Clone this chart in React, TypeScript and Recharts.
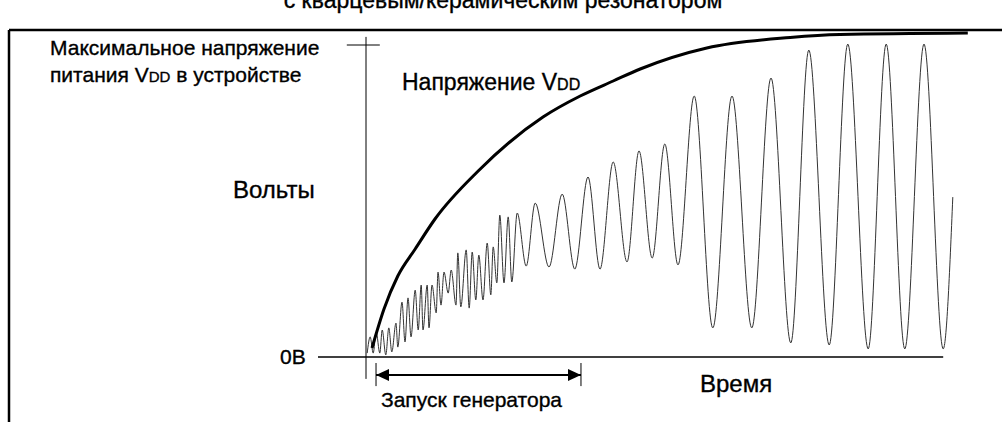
import { Line, LineChart, ReferenceDot, ReferenceLine, XAxis, YAxis } from 'recharts';

// time: 1 unit = 6px, volts: 1 unit = 3px (0 = 0B line)
const vddTime = [1, 3, 5.3, 8.2, 11.5, 18.7, 29.5, 35.7, 41.2, 45.7, 56.8, 70.7, 79, 100.3];
const vddVolts = [3, 16, 27, 36, 46, 62, 80, 87, 92, 96, 103, 106.5, 107.5, 108];

// peaks and troughs of the oscillator signal
const oscTime = [
  0.2, 0.7, 1.2, 1.7, 2.3, 2.7, 3.3, 3.8, 4.3, 5.0, 5.3, 6.0, 6.5, 7.0, 7.5, 8.2, 8.7, 9.2, 9.5,
  10.2, 10.5, 11.0, 11.7, 12.0, 12.5, 13.0, 13.7, 14.2, 15.0, 15.3, 15.8, 16.7, 17.2, 17.7, 18.3,
  18.8, 19.5, 20.2, 20.8, 21.2, 21.8, 22.3, 23.0, 23.7, 24.3, 25.2, 26.7, 28.2, 30.5, 32.7, 34.8,
  37.0, 39.0, 41.2, 43.5, 45.5, 47.7, 49.8, 52.0, 54.7, 57.8, 61.0, 64.3, 67.5, 70.8, 73.8, 77.2,
  80.3, 83.7, 86.7, 89.8, 93.0, 96.2, 97.8,
];
const oscVolts = [
  1.3, 6.7, 1.3, 8.3, 1.3, 9, 0.7, 9.7, 1.7, 11.3, 3.3, 18.3, 5, 19.7, 6.7, 22.3, 9, 24, 9,
  24, 9.7, 24, 14.7, 28.3, 17.3, 28.3, 21.3, 29, 17.3, 34.7, 16.7, 35.7, 16.3, 35, 19,
  34, 19, 38, 20.7, 36.7, 24.7, 47.3, 24.7, 46.7, 25, 48, 30.3, 51.3, 30, 54.3, 29.3,
  60, 29.3, 65, 31.7, 68.7, 33, 71, 30.7, 87, 9.7, 87, 9.7, 93, 4.7, 102.3, 4,
  104.3, 2.7, 104.3, 2.7, 104.3, 2.7, 53.3,
];

const maxLevel = 104;
const startT = 1.67;
const endT = 35.83;
const arrowV = -6;

const vddData = vddTime.map((t, i) => ({ t, v: vddVolts[i] }));
const oscData = oscTime.map((t, i) => ({ t, v: oscVolts[i] }));

const font = '"Liberation Sans", Arial, sans-serif';

const arrowLeft = (p: any) => (
  <polygon points={`${p.cx},${p.cy} ${p.cx + 13},${p.cy - 6} ${p.cx + 13},${p.cy + 6}`} fill="#000" />
);
const arrowRight = (p: any) => (
  <polygon points={`${p.cx},${p.cy} ${p.cx - 13},${p.cy - 6} ${p.cx - 13},${p.cy + 6}`} fill="#000" />
);

export default function App() {
  return (
    <div style={{ position: 'absolute', left: 0, top: 0, width: 1002, height: 422, background: '#fff' }}>
      <LineChart width={1002} height={422} margin={{ top: 30, right: 30, bottom: 23, left: 318 }}>
        <XAxis type="number" dataKey="t" domain={[-8, 101]} allowDataOverflow hide />
        <YAxis type="number" dataKey="v" domain={[-14, 109]} allowDataOverflow hide />
        <ReferenceLine segment={[{ x: 0, y: -7.3 }, { x: 0, y: 106.7 }]} stroke="#000" strokeWidth={1} />
        <ReferenceLine segment={[{ x: -8, y: 0 }, { x: 96.2, y: 0 }]} stroke="#000" strokeWidth={1.5} />
        <ReferenceLine segment={[{ x: -3.2, y: maxLevel }, { x: 2.3, y: maxLevel }]} stroke="#000" strokeWidth={1} />
        <ReferenceLine segment={[{ x: startT, y: arrowV }, { x: endT, y: arrowV }]} stroke="#000" strokeWidth={2} />
        <ReferenceLine segment={[{ x: startT, y: -2 }, { x: startT, y: -9.7 }]} stroke="#000" strokeWidth={1} />
        <ReferenceLine segment={[{ x: endT, y: -2 }, { x: endT, y: -9.7 }]} stroke="#000" strokeWidth={1} />
        <ReferenceDot x={startT} y={arrowV} r={0} shape={arrowLeft} />
        <ReferenceDot x={endT} y={arrowV} r={0} shape={arrowRight} />
        <Line
          data={oscData}
          dataKey="v"
          type="monotone"
          stroke="#333"
          strokeWidth={1}
          dot={false}
          activeDot={false}
          isAnimationActive={false}
        />
        <Line
          data={vddData}
          dataKey="v"
          type="monotone"
          stroke="#000"
          strokeWidth={3}
          dot={false}
          activeDot={false}
          isAnimationActive={false}
        />
      </LineChart>
      <svg width={1002} height={422} style={{ position: 'absolute', left: 0, top: 0, pointerEvents: 'none' }}>
        <line x1={9} y1={30} x2={1002} y2={30} stroke="#000" strokeWidth={2.5} />
        <line x1={9} y1={30} x2={9} y2={422} stroke="#000" strokeWidth={2.5} />
        <g fontFamily={font} fill="#000" stroke="#000" strokeWidth={0.35}>
          <text x={503} y={8} fontSize={23} textAnchor="middle">с кварцевым/керамическим резонатором</text>
          <text x={50} y={55} fontSize={21}>Максимальное напряжение</text>
          <text x={50} y={82} fontSize={21}>
            питания V<tspan fontSize={15}>DD</tspan> в устройстве
          </text>
          <text x={402} y={90} fontSize={23}>
            Напряжение V<tspan fontSize={16}>DD</tspan>
          </text>
          <text x={233} y={198} fontSize={24}>Вольты</text>
          <text x={280} y={364} fontSize={21}>0В</text>
          <text x={700} y={392} fontSize={24}>Время</text>
          <text x={381} y={407} fontSize={21}>Запуск генератора</text>
        </g>
      </svg>
    </div>
  );
}
